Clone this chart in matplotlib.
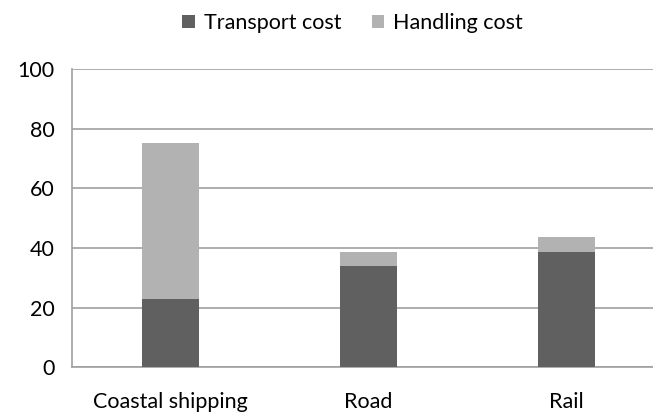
import matplotlib.pyplot as plt

categories = ["Coastal shipping", "Road", "Rail"]
transport_cost = [23, 34, 38.5]
handling_cost = [52, 4.5, 5]
yticks = [0, 20, 40, 60, 80, 100]

plt.rcParams['font.family'] = ['Lato', 'DejaVu Sans']

fig = plt.figure(figsize=(6.53, 4.15), dpi=100)
# plot area runs a little past the right edge of the figure
ax = fig.add_axes([0.1095, 0.115, 0.9096, 0.719])

x = range(len(categories))
ax.bar(x, transport_cost, width=0.29, color='#606060', label="Transport cost", zorder=3)
ax.bar(x, handling_cost, width=0.29, bottom=transport_cost, color='#b2b2b2',
       label="Handling cost", zorder=3)

ax.set_xlim(-0.5, 2.5)
ax.set_ylim(0, 100)
ax.set_yticks(yticks)
ax.set_xticks(list(x))
ax.set_xticklabels(categories, fontsize=15.5)
ax.tick_params(axis='y', labelsize=15.5, length=0, pad=12)
ax.tick_params(axis='x', length=0, pad=18)
ax.yaxis.grid(True, color='#a0a0a0', linewidth=1.2, zorder=0)

for side in ['top', 'right']:
    ax.spines[side].set_visible(False)
ax.spines['left'].set_color('#a0a0a0')
ax.spines['bottom'].set_color('#a0a0a0')
ax.spines['left'].set_linewidth(1.2)
ax.spines['bottom'].set_linewidth(1.2)

fig.legend(loc='upper center', bbox_to_anchor=(0.54, 1.015), ncol=2, frameon=False,
           fontsize=15.5, handlelength=0.6, handleheight=0.6, handletextpad=0.4,
           columnspacing=1.4)

fig.savefig("out.png", dpi=100)
